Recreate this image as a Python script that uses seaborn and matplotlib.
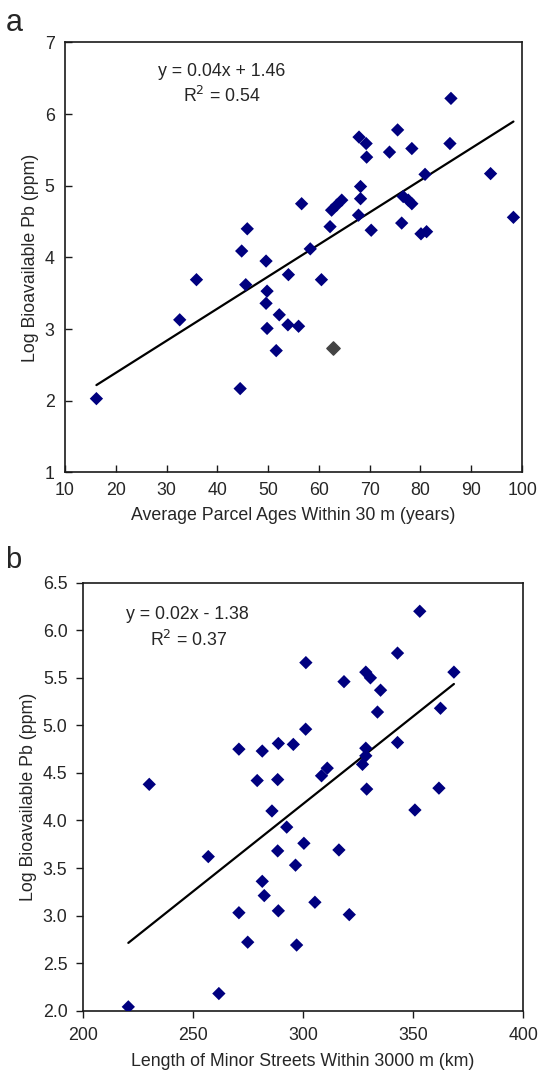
import numpy as np
import pandas as pd
import matplotlib
matplotlib.use("Agg")
import matplotlib.pyplot as plt
import seaborn as sns

# panel a: average parcel age (years) vs log bioavailable Pb
age = [16.2, 32.6, 35.9, 44.5, 44.8, 45.9, 45.6, 49.6, 49.8, 49.6, 49.8, 51.6,
       52.2, 54.0, 53.9, 56.0, 56.6, 58.3, 60.5, 62.2, 62.5, 63.5, 64.5, 67.8,
       68.2, 68.2, 67.9, 69.3, 69.4, 70.3, 73.9, 75.5, 76.3, 76.6, 77.6, 78.3,
       78.3, 80.1, 81.2, 80.9, 85.8, 86.0, 93.8, 98.3]
pb_a = [2.03, 3.13, 3.69, 2.17, 4.09, 4.40, 3.62, 3.95, 3.53, 3.36, 3.01, 2.70,
        3.20, 3.76, 3.06, 3.04, 4.75, 4.12, 3.69, 4.43, 4.66, 4.73, 4.80, 4.59,
        4.99, 4.82, 5.68, 5.59, 5.40, 4.38, 5.47, 5.78, 4.48, 4.85, 4.80, 4.75,
        5.52, 4.33, 4.36, 5.16, 5.59, 6.22, 5.17, 4.56]
# grey outlier point in panel a
age_out = [62.8]
pb_out = [2.73]

# panel b: length of minor streets (km) vs log bioavailable Pb
streets = [220.7, 230.2, 257.0, 261.8, 270.9, 270.9, 274.9, 279.2, 281.5, 281.5,
           282.4, 285.9, 288.8, 288.5, 288.5, 288.8, 292.6, 295.6, 296.6, 297.1,
           300.4, 301.2, 301.3, 305.4, 308.4, 311.0, 316.3, 318.6, 321.0, 327.0,
           328.5, 328.5, 328.9, 328.5, 330.6, 335.2, 333.8, 342.9, 342.9, 350.8,
           353.0, 361.7, 362.4, 368.5]
pb_b = [2.04, 4.38, 3.62, 2.18, 4.75, 3.03, 2.72, 4.42, 4.73, 3.36,
        3.21, 4.10, 4.81, 4.43, 3.68, 3.05, 3.93, 4.80, 3.53, 2.69,
        3.76, 4.96, 5.66, 3.14, 4.47, 4.55, 3.69, 5.46, 3.01, 4.59,
        4.68, 4.76, 4.33, 5.56, 5.50, 5.37, 5.14, 5.76, 4.82, 4.11,
        6.20, 4.34, 5.18, 5.56]

df_a = pd.DataFrame({"age": age, "pb": pb_a})
df_b = pd.DataFrame({"streets": streets, "pb": pb_b})

sns.set_style("white")
plt.rcParams["font.family"] = ["Liberation Sans", "DejaVu Sans"]
navy = "#00007f"
fs = 12.8

fig = plt.figure(figsize=(5.41, 10.73), dpi=100)
ax1 = fig.add_axes([0.120, 0.5597, 0.845, 0.4007])
ax2 = fig.add_axes([0.1529, 0.0581, 0.8144, 0.3988])

# --- panel a
sns.scatterplot(data=df_a, x="age", y="pb", marker="D", s=46, color=navy,
                edgecolor="none", ax=ax1, zorder=3)
ax1.scatter(age_out, pb_out, marker="D", s=46, color="#444444", zorder=3)
sns.regplot(data=df_a, x="age", y="pb", scatter=False, ci=None, ax=ax1,
            line_kws={"color": "black", "lw": 1.6})
ax1.set_xlim(10, 100)
ax1.set_ylim(1, 7)
ax1.set_xticks(range(10, 101, 10))
ax1.set_yticks(range(1, 8))
ax1.tick_params(direction="in", length=5, width=1, color="#1a1a1a",
                labelsize=fs, left=True, bottom=True)
ax1.tick_params(axis="x", pad=7)
ax1.tick_params(axis="y", pad=7.5)
ax1.set_xlabel("Average Parcel Ages Within 30 m (years)", fontsize=fs, labelpad=6)
ax1.set_ylabel("Log Bioavailable Pb (ppm)", fontsize=fs, labelpad=4)
ax1.text(40.9, 6.60, "y = 0.04x + 1.46", ha="center", va="center", fontsize=fs)
ax1.text(40.9, 6.25, "R$^2$ = 0.54", ha="center", va="center", fontsize=fs)

# --- panel b
sns.scatterplot(data=df_b, x="streets", y="pb", marker="D", s=46, color=navy,
                edgecolor="none", ax=ax2, zorder=3)
sns.regplot(data=df_b, x="streets", y="pb", scatter=False, ci=None, ax=ax2,
            line_kws={"color": "black", "lw": 1.6})
ax2.set_xlim(200, 400)
ax2.set_ylim(2, 6.5)
ax2.set_xticks(range(200, 401, 50))
ax2.set_yticks(np.arange(2.0, 6.51, 0.5))
ax2.set_yticklabels([f"{v:.1f}" for v in np.arange(2.0, 6.51, 0.5)])
ax2.tick_params(direction="out", length=5, width=1, color="#1a1a1a",
                labelsize=fs, left=True, bottom=True)
ax2.tick_params(axis="x", pad=7)
ax2.tick_params(axis="y", pad=6)
ax2.set_xlabel("Length of Minor Streets Within 3000 m (km)", fontsize=fs, labelpad=6)
ax2.set_ylabel("Log Bioavailable Pb (ppm)", fontsize=fs, labelpad=4)
ax2.text(247.5, 6.17, "y = 0.02x - 1.38", ha="center", va="center", fontsize=fs)
ax2.text(247.9, 5.90, "R$^2$ = 0.37", ha="center", va="center", fontsize=fs)

for ax in (ax1, ax2):
    for sp in ax.spines.values():
        sp.set_color("#1a1a1a")
        sp.set_linewidth(1.2)

fig.text(0.010, 0.979, "a", fontsize=22, va="center", ha="left")
fig.text(0.010, 0.478, "b", fontsize=21, va="center", ha="left")

plt.savefig("out.png", dpi=100)
